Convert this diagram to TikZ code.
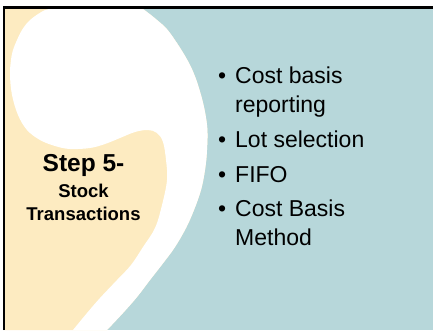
\documentclass[tikz,border=0pt]{standalone}
\usepackage{fontspec}
\setmainfont{Liberation Sans}
\definecolor{beige}{RGB}{253,235,193}
\definecolor{teal}{RGB}{183,215,218}
\begin{document}
\begin{tikzpicture}[x=1pt,y=-1pt,
  titlebig/.style={font=\fontsize{24.5}{28}\selectfont\bfseries, anchor=base},
  titlesmall/.style={font=\fontsize{18.5}{22}\selectfont\bfseries, anchor=base},
  itemtxt/.style={font=\fontsize{23}{27}\selectfont, anchor=base west, inner sep=0pt},
  bul/.style={font=\fontsize{23}{27}\selectfont, anchor=base west, inner sep=0pt}]
\useasboundingbox (0,0) rectangle (433,330);
\fill[white] (0,0) rectangle (433,330);
% background teal
\fill[teal] (4,7.5) rectangle (433,330);
% beige region left of outer tail edge
\fill[beige] (4,7.5) -- (143,7.5)
  -- plot[smooth,tension=0.6] coordinates {(143,9) (157,20) (170,33) (190,65) (201,95) (207,125) (207,150) (205,170) (201,190) (194,210) (186,228) (175,247) (164,262) (150,280) (137,297) (123,313) (107,330)}
  -- (4,330) -- cycle;
% white comma
\fill[white] (50,7.5)
  -- plot[smooth,tension=0.6] coordinates {(50,9) (43,11) (30,20) (22,30) (17,40) (13,50) (11,60) (10,75) (12,95) (18,115) (27,130) (40,140) (55,146) (70,149) (90,148) (105,144) (120,138) (135,132) (148,130) (157,133) (163,142) (166,160) (167,180) (162,205) (155,228) (143,247) (131,265) (117,280) (100,298) (87,313) (73,330)}
  -- (107,330)
  -- plot[smooth,tension=0.6] coordinates {(107,330) (123,313) (137,297) (150,280) (164,262) (175,247) (186,228) (194,210) (201,190) (205,170) (207,150) (207,125) (201,95) (190,65) (170,33) (157,20) (143,9)}
  -- (143,7.5) -- cycle;
% frame
\draw[line width=2.8pt] (4,330) -- (4,7.5) -- (433,7.5);
% title
\node[titlebig] (t1) at (83.5,171) {Step 5-};
\node[titlesmall] (t2) at (83.5,197) {Stock};
\node[titlesmall] (t3) at (83.5,220) {Transactions};
% bullets
\node[bul] (b1) at (218,83) {•};
\node[itemtxt] (i1) at (235,83) {Cost basis};
\node[itemtxt] (i1b) at (235,112) {reporting};
\node[bul] (b2) at (218,147) {•};
\node[itemtxt] (i2) at (235,147) {Lot selection};
\node[bul] (b3) at (218,182) {•};
\node[itemtxt] (i3) at (235,182) {FIFO};
\node[bul] (b4) at (218,216) {•};
\node[itemtxt] (i4) at (235,216) {Cost Basis};
\node[itemtxt] (i4b) at (235,245) {Method};
\end{tikzpicture}
\end{document}
